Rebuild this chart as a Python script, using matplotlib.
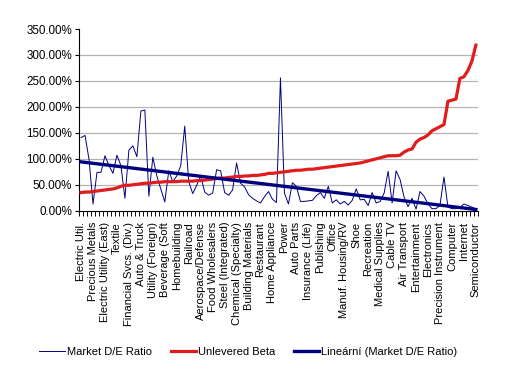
"""Market D/E ratio vs unlevered beta by industry, with linear trend of D/E."""

import matplotlib

matplotlib.use("Agg")
import matplotlib.pyplot as plt
import numpy as np
from matplotlib.ticker import FixedLocator, FuncFormatter

plt.rcParams["font.family"] = ["Liberation Sans", "DejaVu Sans"]

# every third industry carries a visible label (100 industries in total)
LABELS = [
    "Electric Util.", "Precious Metals", "Electric Utility (East)", "Textile",
    "Financial Svcs. (Div.)", "Auto & Truck", "Utility (Foreign)", "Beverage (Soft",
    "Homebuilding", "Railroad", "Aerospace/Defense", "Food Wholesalers",
    "Steel (Integrated)", "Chemical (Specialty)", "Building Materials", "Restaurant",
    "Home Appliance", "Power", "Auto Parts", "Insurance (Life)", "Publishing",
    "Office", "Manuf. Housing/RV", "Shoe", "Recreation", "Medical Supplies",
    "Cable TV", "Air Transport", "Entertainment", "Electronics",
    "Precision Instrument", "Computer", "Internet", "Semiconductor",
]
LABEL_STEP = 3

# Market D/E ratio, in %
DE_RATIO = [
    141, 145, 99, 13, 74, 74, 106, 87, 72, 107,
    87, 24, 117, 125, 104, 192, 194, 28, 103, 67,
    42, 17, 77, 56, 67, 87, 163, 56, 33, 49,
    67, 36, 30, 34, 79, 77, 35, 30, 40, 92,
    53, 46, 31, 24, 19, 15, 27, 37, 22, 16,
    256, 34, 13, 54, 47, 18, 18, 19, 20, 29,
    35, 24, 47, 15, 21, 13, 18, 11, 20, 42,
    21, 22, 10, 35, 15, 18, 34, 76, 15, 77,
    60, 26, 8, 24, 3, 37, 28, 13, 4, 4,
    11, 65, 7, 4, 4, 6, 13, 10, 7, 3,
]

# Unlevered beta, in %
UNLEVERED_BETA = [
    35, 36, 36, 37, 38, 39, 40, 41, 42, 44,
    47, 49, 49, 50, 51, 52, 53, 53, 54, 55,
    55, 56, 56, 56, 56, 57, 57, 57, 57, 58,
    58, 59, 60, 61, 62, 63, 63, 64, 65, 66,
    66, 67, 67, 68, 68, 69, 70, 72, 72, 73,
    74, 75, 76, 77, 78, 78, 79, 80, 80, 81,
    82, 83, 84, 85, 86, 87, 88, 89, 90, 91,
    92, 94, 96, 98, 100, 102, 104, 106, 106, 106,
    107, 113, 117, 119, 132, 138, 141, 146, 154, 158,
    162, 166, 211, 213, 215, 255, 258, 270, 288, 319,
]

NAVY = "#000080"
RED = "#e01c1c"


def main() -> None:
    fig = plt.figure(figsize=(5.10, 3.77), dpi=100)
    ax = fig.add_axes([0.155, 0.441, 0.782, 0.482])

    x = np.arange(len(DE_RATIO))
    de = np.array(DE_RATIO, dtype=float)
    beta = np.array(UNLEVERED_BETA, dtype=float)

    # Excel-style linear trend on the D/E series
    slope, icpt = np.polyfit(x, de, 1)
    trend = slope * x + icpt

    ax.plot(x, de, color=NAVY, lw=0.7, zorder=3, label="Market D/E Ratio")
    ax.plot(x, beta, color=RED, lw=2.3, zorder=4, label="Unlevered Beta")
    ax.plot(x, trend, color=NAVY, lw=2.4, zorder=5,
            label="Lineární (Market D/E Ratio)")

    # y axis: 0 .. 350 %
    ax.set_ylim(0, 350)
    ax.yaxis.set_major_locator(FixedLocator(np.arange(0, 351, 50)))
    ax.yaxis.set_major_formatter(FuncFormatter(lambda v, _p: f"{v:.2f}%"))
    ax.yaxis.grid(True, color="#b4b4b4", lw=0.9)
    ax.set_axisbelow(True)
    ygrid = ax.get_ygridlines()
    ygrid[0].set_visible(False)
    ygrid[-1].set_visible(False)
    ax.tick_params(axis="y", direction="out", length=3, width=0.8,
                   labelsize=8.4, pad=2)

    # x axis: tick marks between categories, labels on every 3rd category
    n = len(DE_RATIO)
    ax.set_xlim(-0.5, n - 0.5)
    ax.xaxis.set_major_locator(FixedLocator(np.arange(-0.5, n, 1.0)))
    ax.xaxis.set_major_formatter(FuncFormatter(lambda v, _p: ""))
    ax.tick_params(axis="x", which="major", direction="out", length=3.5,
                   width=0.7)
    ax.set_xticks(np.arange(0, n, LABEL_STEP), minor=True)
    ax.set_xticklabels(LABELS, minor=True, rotation=90, fontsize=8)
    ax.tick_params(axis="x", which="minor", length=0, pad=8)

    for side in ("top", "right"):
        ax.spines[side].set_visible(False)
    for side in ("left", "bottom"):
        ax.spines[side].set_color("black")
        ax.spines[side].set_linewidth(0.8)

    fig.legend(
        loc="center", bbox_to_anchor=(0.487, 0.066), ncol=3, frameon=False,
        fontsize=8, handlelength=2.3, handletextpad=0.15, columnspacing=1.7,
    )

    fig.savefig("out.png", dpi=100, facecolor="white")
    plt.close(fig)


if __name__ == "__main__":
    main()
